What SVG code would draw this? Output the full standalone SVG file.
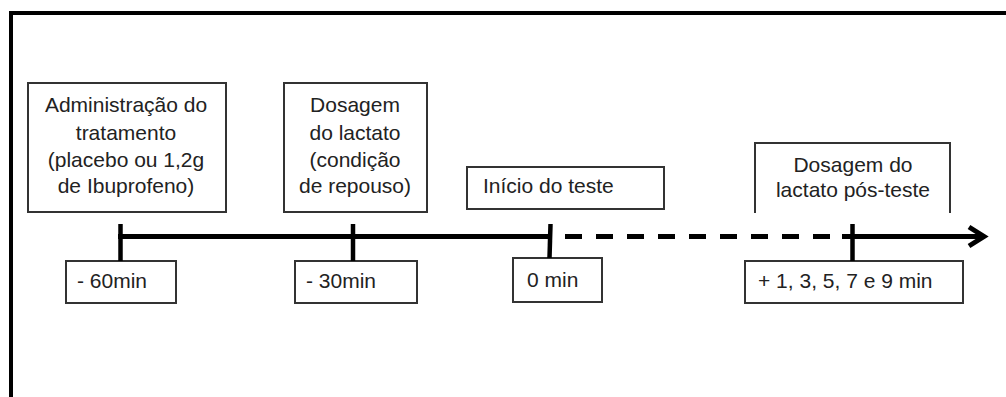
<svg xmlns="http://www.w3.org/2000/svg" width="1006" height="397" viewBox="0 0 1006 397">
  <style>
    .box { fill: #ffffff; stroke: #333333; stroke-width: 2; }
    .txt { font-family: "Liberation Sans", Arial, sans-serif; font-size: 21px; fill: #222222; }
    .mid { text-anchor: middle; }
    .axis { stroke: #000000; stroke-width: 5; fill: none; }
    .tick { stroke: #000000; stroke-width: 4.5; }
    .frame { stroke: #000000; stroke-width: 4; fill: none; }
  </style>

  <!-- page frame (top and left edges) -->
  <path class="frame" d="M11,397 V13 H1006"/>

  <!-- upper event boxes -->
  <g id="administracao">
    <rect class="box" x="28" y="83" width="198" height="129"/>
    <text class="txt mid" x="126" y="112">Administração do</text>
    <text class="txt mid" x="126" y="140">tratamento</text>
    <text class="txt mid" x="126" y="167">(placebo ou  1,2g</text>
    <text class="txt mid" x="126" y="193">de Ibuprofeno)</text>
  </g>

  <g id="dosagem-repouso">
    <rect class="box" x="284" y="83" width="143" height="129"/>
    <text class="txt mid" x="355" y="112">Dosagem</text>
    <text class="txt mid" x="355" y="140">do lactato</text>
    <text class="txt mid" x="355" y="167">(condição</text>
    <text class="txt mid" x="355" y="193">de repouso)</text>
  </g>

  <g id="inicio-teste">
    <rect class="box" x="467" y="167" width="197" height="42"/>
    <text class="txt" x="483" y="193">Início do teste</text>
  </g>

  <g id="dosagem-pos-teste">
    <path class="box" d="M755,213 V143 H950 V213"/>
    <text class="txt mid" x="853" y="172">Dosagem do</text>
    <text class="txt mid" x="853" y="197">lactato pós-teste</text>
  </g>

  <!-- time labels -->
  <g id="t-60">
    <rect class="box" x="66" y="261" width="110" height="42"/>
    <text class="txt" x="77" y="288">- 60min</text>
  </g>

  <g id="t-30">
    <rect class="box" x="295" y="261" width="122" height="42"/>
    <text class="txt" x="306" y="288">- 30min</text>
  </g>

  <g id="t0">
    <rect class="box" x="513" y="258" width="89" height="44"/>
    <text class="txt" x="527" y="287">0 min</text>
  </g>

  <g id="t-pos">
    <rect class="box" x="745" y="261" width="218" height="42"/>
    <text class="txt" x="758" y="288">+ 1, 3, 5, 7 e 9 min</text>
  </g>

  <!-- timeline -->
  <g id="connectors">
    <line class="axis" x1="118" y1="236.5" x2="552" y2="236.5"/>
    <line class="axis" x1="565" y1="236.5" x2="831" y2="236.5" stroke-dasharray="17 14"/>
    <line class="axis" x1="842" y1="236.5" x2="983" y2="236.5"/>
    <polyline class="axis" points="969,227 984,236.5 969,246" stroke-width="4.5" stroke-linejoin="miter"/>
    <line class="tick" x1="120.5" y1="224" x2="120.5" y2="261"/>
    <line class="tick" x1="353" y1="224" x2="353" y2="261"/>
    <line class="tick" x1="550.5" y1="224" x2="549.5" y2="258" stroke-width="3.5"/>
    <line class="tick" x1="852.5" y1="224" x2="852.5" y2="261"/>
  </g>
</svg>
